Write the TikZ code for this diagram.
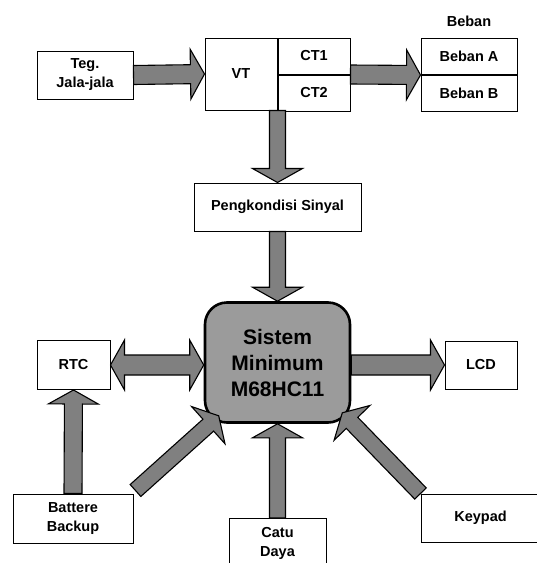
\documentclass[tikz,border=0pt]{standalone}
\usepackage{fontspec}
\setmainfont{Liberation Sans}
\usetikzlibrary{calc,positioning}

\definecolor{arrowgray}{RGB}{128,128,128}
\definecolor{sisgray}{RGB}{155,155,155}

\tikzset{
  box/.style={draw, line width=1pt, fill=white, inner sep=0pt, align=center,
    font=\bfseries\fontsize{14.5}{19}\selectfont},
  lbl/.style={inner sep=0pt, font=\bfseries\fontsize{14.5}{19}\selectfont},
  sisbox/.style={draw, line width=2.6pt, fill=sisgray, rounded corners=22pt,
    inner sep=0pt, align=center, font=\bfseries\fontsize{21}{26}\selectfont},
  barrow/.style={draw, line width=1.1pt, fill=arrowgray, line join=miter}
}

% block arrow: [half shaft width]{tail}{tip}
\newcommand{\blockarrow}[3][8]{%
  \draw[barrow] ($(#2)!#1pt!90:(#3)$)
    -- ($(#3)!14pt!(#2)!#1pt!90:(#3)$) -- ($(#3)!14pt!(#2)!25pt!90:(#3)$)
    -- (#3)
    -- ($(#3)!14pt!(#2)!25pt!-90:(#3)$) -- ($(#3)!14pt!(#2)!#1pt!-90:(#3)$)
    -- ($(#2)!#1pt!-90:(#3)$) -- cycle;}
% double headed block arrow
\newcommand{\dblarrow}[3][10]{%
  \draw[barrow] (#2)
    -- ($(#2)!14pt!(#3)!25pt!90:(#3)$) -- ($(#2)!14pt!(#3)!#1pt!90:(#3)$)
    -- ($(#3)!14pt!(#2)!#1pt!90:(#3)$) -- ($(#3)!14pt!(#2)!25pt!90:(#3)$)
    -- (#3)
    -- ($(#3)!14pt!(#2)!25pt!-90:(#3)$) -- ($(#3)!14pt!(#2)!#1pt!-90:(#3)$)
    -- ($(#2)!14pt!(#3)!#1pt!-90:(#3)$) -- ($(#2)!14pt!(#3)!25pt!-90:(#3)$)
    -- cycle;}

\begin{document}
\begin{tikzpicture}[x=1pt, y=-1pt]
  \useasboundingbox (0,0) rectangle (537,563);

  % blocks
  \node[box, minimum width=96pt, minimum height=48pt] (teg) at (85,75) {Teg.\\Jala-jala}; % input
  \node[box, minimum width=72pt, minimum height=72pt] (vt) at (241,74) {VT};
  \node[box, anchor=north west, minimum width=72pt, minimum height=36pt] (ct1) at (vt.north east) {CT1};
  \node[box, anchor=north west, minimum width=72pt, minimum height=36pt] (ct2) at (ct1.south west) {CT2};
  \node[box, minimum width=96pt, minimum height=36pt] (bebanA) at (469,56.5) {Beban A};
  \node[box, anchor=north, minimum width=96pt, minimum height=36pt] (bebanB) at (bebanA.south) {Beban B};
  \node[lbl, above=11pt of bebanA] (beban) {Beban}; % label
  \node[box, minimum width=167pt, minimum height=48pt] (peng) at (277.5,207) {Pengkondisi Sinyal};
  \node[sisbox, minimum width=145pt, minimum height=120pt] (sis) at (277.5,362.5) {Sistem\\Minimum\\M68HC11}; % centre
  \node[box, minimum width=73pt, minimum height=49pt] (rtc) at (73.5,365) {RTC};
  \node[box, minimum width=72pt, minimum height=48pt] (lcd) at (481,365) {LCD};
  \node[box, minimum width=120pt, minimum height=49pt] (bat) at (73,518.5) {Battere\\Backup};
  \node[box, minimum width=97pt, minimum height=50pt] (catu) at (277.5,543.5) {Catu\\Daya};
  \node[box, minimum width=119pt, minimum height=48pt] (key) at (480.5,518) {Keypad};

  % arrow ends on the centre block
  \coordinate (sisW) at (rtc.east -| sis.west);
  \coordinate (sisE) at (lcd.west -| sis.east);
  \coordinate (sisSW) at ($(sis.south west)+(15,-8)$);
  \coordinate (sisSE) at ($(sis.south east)+(-9,-11)$);
  \coordinate (batNE) at ($(bat.north east)+(2,-3)$);

  % arrows
  \blockarrow[9.5]{teg.east}{vt.west};
  \blockarrow[9.5]{ct1.south east}{bebanA.south west};
  \blockarrow{vt.south east}{peng.north};
  \blockarrow{peng.south}{sis.north};
  \dblarrow{rtc.east}{sisW};
  \blockarrow[10]{sisE}{lcd.west};
  \blockarrow[9]{bat.north}{rtc.south};
  \blockarrow{catu.north}{sis.south};
  \blockarrow{batNE}{sisSW};
  \blockarrow{key.north west}{sisSE};
\end{tikzpicture}
\end{document}
